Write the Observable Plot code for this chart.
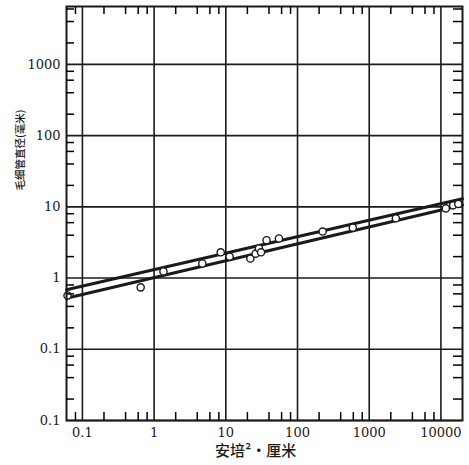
<!DOCTYPE html>
<html>
<head>
<meta charset="utf-8">
<script src="https://cdn.jsdelivr.net/npm/d3@7"></script>
<script src="https://cdn.jsdelivr.net/npm/@observablehq/plot@0.6"></script>
<style>
  html, body { margin: 0; padding: 0; background: #fff; }
  #chart { width: 469px; height: 465px; }
</style>
</head>
<body>
<div id="chart"></div>
<script>
// ---- data ----
const xTicks = [0.1, 1, 10, 100, 1000, 10000];
const xTickLabels = ["0.1", "1", "10", "100", "1000", "10000"];
const yTicks = [1000, 100, 10, 1, 0.1, 0.01];
const yTickLabels = ["1000", "100", "10", "1", "0.1", "0.1"];
const minorX = [0.08, 0.2, 0.4, 0.6, 0.8, 2, 4, 6, 8, 20, 40, 60, 80,
                200, 400, 600, 800, 2000, 4000, 6000, 8000];
const minorY = [0.02, 0.04, 0.06, 0.08, 0.2, 0.4, 0.6, 0.8, 2, 4, 6, 8,
                20, 40, 60, 80, 200, 400, 600, 800, 2000, 4000, 6000];

// measured points: ampere^2·cm vs capillary diameter (mm)
const pointX = [0.062, 0.65, 1.35, 4.7, 8.5, 11.3, 22, 26, 29, 31, 37, 55,
                224, 590, 2350, 11700, 14800, 17500];
const pointY = [0.57, 0.74, 1.24, 1.6, 2.3, 2.0, 1.88, 2.2, 2.6, 2.3, 3.4, 3.6,
                4.5, 5.1, 6.9, 9.5, 10.5, 11.0];

// two bounding lines
const upperLineX = [0.06, 20000];
const upperLineY = [0.686, 13.0];
const lowerLineX = [0.06, 20000];
const lowerLineY = [0.52, 10.6];

const xTitle = "安培²·厘米";
const yTitle = "毛细管直径(毫米)";

// ---- build ----
const points = pointX.map((x, i) => ({x, y: pointY[i]}));
const upper = upperLineX.map((x, i) => ({x, y: upperLineY[i]}));
const lower = lowerLineX.map((x, i) => ({x, y: lowerLineY[i]}));

const W = 469, H = 465, mL = 66, mR = 7, mT = 6, mB = 45;
const pw = W - mL - mR, ph = H - mT - mB;
const ink = "#1a1a1a";

const chart = Plot.plot({
  width: W, height: H,
  marginLeft: mL, marginRight: mR, marginTop: mT, marginBottom: mB,
  x: {type: "log", domain: [0.06, 20000], ticks: xTicks,
      tickFormat: d => xTickLabels[xTicks.indexOf(d)], tickSize: 0, tickPadding: 7, label: null},
  y: {type: "log", domain: [0.01, 6500], ticks: yTicks,
      tickFormat: d => yTickLabels[yTicks.indexOf(d)], tickSize: 0, tickPadding: 6, label: null},
  style: {background: "#fff", color: ink, fontFamily: "DejaVu Serif", fontSize: "13px"},
  marks: [
    Plot.ruleX(xTicks, {stroke: ink, strokeWidth: 1.6}),
    Plot.ruleY(yTicks, {stroke: ink, strokeWidth: 1.6}),
    Plot.line(upper, {x: "x", y: "y", stroke: ink, strokeWidth: 3}),
    Plot.line(lower, {x: "x", y: "y", stroke: ink, strokeWidth: 3}),
    Plot.dot(points, {x: "x", y: "y", r: 3.6, fill: "#fff", stroke: ink, strokeWidth: 1.4}),
    Plot.frame({stroke: ink, strokeWidth: 2}),
    // minor ticks pointing inward from the frame
    Plot.ruleX(minorX, {x: d => d, insetTop: ph - 8, stroke: "black", strokeWidth: 1.5}),
    Plot.ruleX(minorX, {x: d => d, insetBottom: ph - 8, stroke: "black", strokeWidth: 1.5}),
    Plot.ruleY(minorY, {y: d => d, insetRight: pw - 8, stroke: "black", strokeWidth: 1.5}),
    Plot.ruleY(minorY, {y: d => d, insetLeft: pw - 9, stroke: "black", strokeWidth: 1.5}),
    Plot.text([xTitle], {frameAnchor: "bottom", dy: 35, dx: -9, text: d => d,
                fontSize: 15, fontFamily: "Noto Sans CJK SC", fontWeight: 500, fill: ink}),
    Plot.text([yTitle], {frameAnchor: "left", rotate: -90, dx: -46, dy: -23, text: d => d,
                fontSize: 10.5, fontFamily: "Noto Sans CJK SC", fontWeight: 500, fill: ink})
  ]
});
document.getElementById("chart").appendChild(chart);
</script>
</body>
</html>
